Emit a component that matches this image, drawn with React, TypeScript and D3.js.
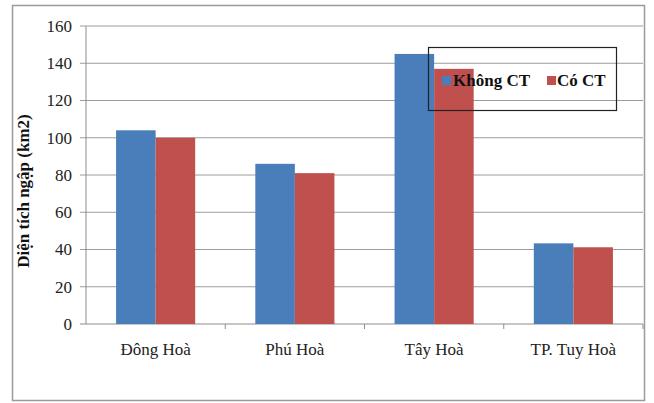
import React from "react";
import * as d3 from "d3";

const categories = ["Đông Hoà", "Phú Hoà", "Tây Hoà", "TP. Tuy Hoà"];
const seriesNames = ["Không CT", "Có CT"];
const khongCT = [104, 86, 145, 43.3];
const coCT = [100, 81, 137, 41.2];
const yTicks = [0, 20, 40, 60, 80, 100, 120, 140, 160];
const colors = ["#4A7EBB", "#C0504D"];

const W = 654;
const H = 403;
const FONT = "Liberation Serif, Times New Roman, DejaVu Serif, serif";

export default function App() {
  const left = 86, right = 643, top = 26, bottom = 324;
  const x = d3.scaleBand<string>().domain(categories).range([left, right]).paddingInner(0).paddingOuter(0);
  const x1 = d3.scaleBand<string>().domain(seriesNames).range([0, x.bandwidth()]).paddingInner(0).paddingOuter(0.76);
  const y = d3.scaleLinear().domain([0, 160]).range([bottom, top]);
  const series = [khongCT, coCT];
  const ts = { fontFamily: FONT } as React.CSSProperties;

  return (
    <svg width={W} height={H} style={{ position: "absolute", left: 0, top: 0, background: "#fff", fontFamily: FONT }}>
      <rect x={12.5} y={5.5} width={632} height={395} fill="#fff" stroke="#9a9a9a" strokeWidth={1.5} />
      {yTicks.map((t) => (
        <g key={t}>
          <line x1={left - 6} x2={right} y1={y(t)} y2={y(t)} stroke={t === 0 ? "#8c8c8c" : "#9c9c9c"} strokeWidth={1} />
          <text x={left - 14} y={y(t)} dy="0.35em" textAnchor="end" fontSize={17} fill="#222" style={ts}>{t}</text>
        </g>
      ))}
      <line x1={left} x2={left} y1={top} y2={bottom} stroke="#8c8c8c" />
      {categories.map((c, i) => (
        <line key={"tk" + i} x1={(x(c) as number) + x.bandwidth()} x2={(x(c) as number) + x.bandwidth()} y1={bottom} y2={bottom + 5} stroke="#8c8c8c" />
      ))}
      {categories.map((c, i) => (
        <g key={c}>
          {series.map((s, j) => (
            <rect
              key={j}
              x={(x(c) as number) + (x1(seriesNames[j]) as number)}
              y={y(s[i])}
              width={x1.bandwidth()}
              height={bottom - y(s[i])}
              fill={colors[j]}
            />
          ))}
          <text x={(x(c) as number) + x.bandwidth() / 2} y={355} textAnchor="middle" fontSize={17} fill="#222" style={ts}>{c}</text>
        </g>
      ))}
      <text transform={`translate(29, ${(top + bottom) / 2 + 16}) rotate(-90)`} textAnchor="middle" fontSize={17} fontWeight="bold" fill="#111" style={ts}>
        Diện tích ngập (km2)
      </text>
      <g>
        <rect x={428.5} y={47.5} width={188} height={63} fill="none" stroke="#222" strokeWidth={1.2} />
        <rect x={442} y={76} width={9} height={9} fill={colors[0]} />
        <text x={453} y={86} fontSize={17} fontWeight="bold" fill="#111" style={ts}>{seriesNames[0]}</text>
        <rect x={547} y={76} width={9} height={9} fill={colors[1]} />
        <text x={557} y={86} fontSize={17} fontWeight="bold" fill="#111" style={ts}>{seriesNames[1]}</text>
      </g>
    </svg>
  );
}
